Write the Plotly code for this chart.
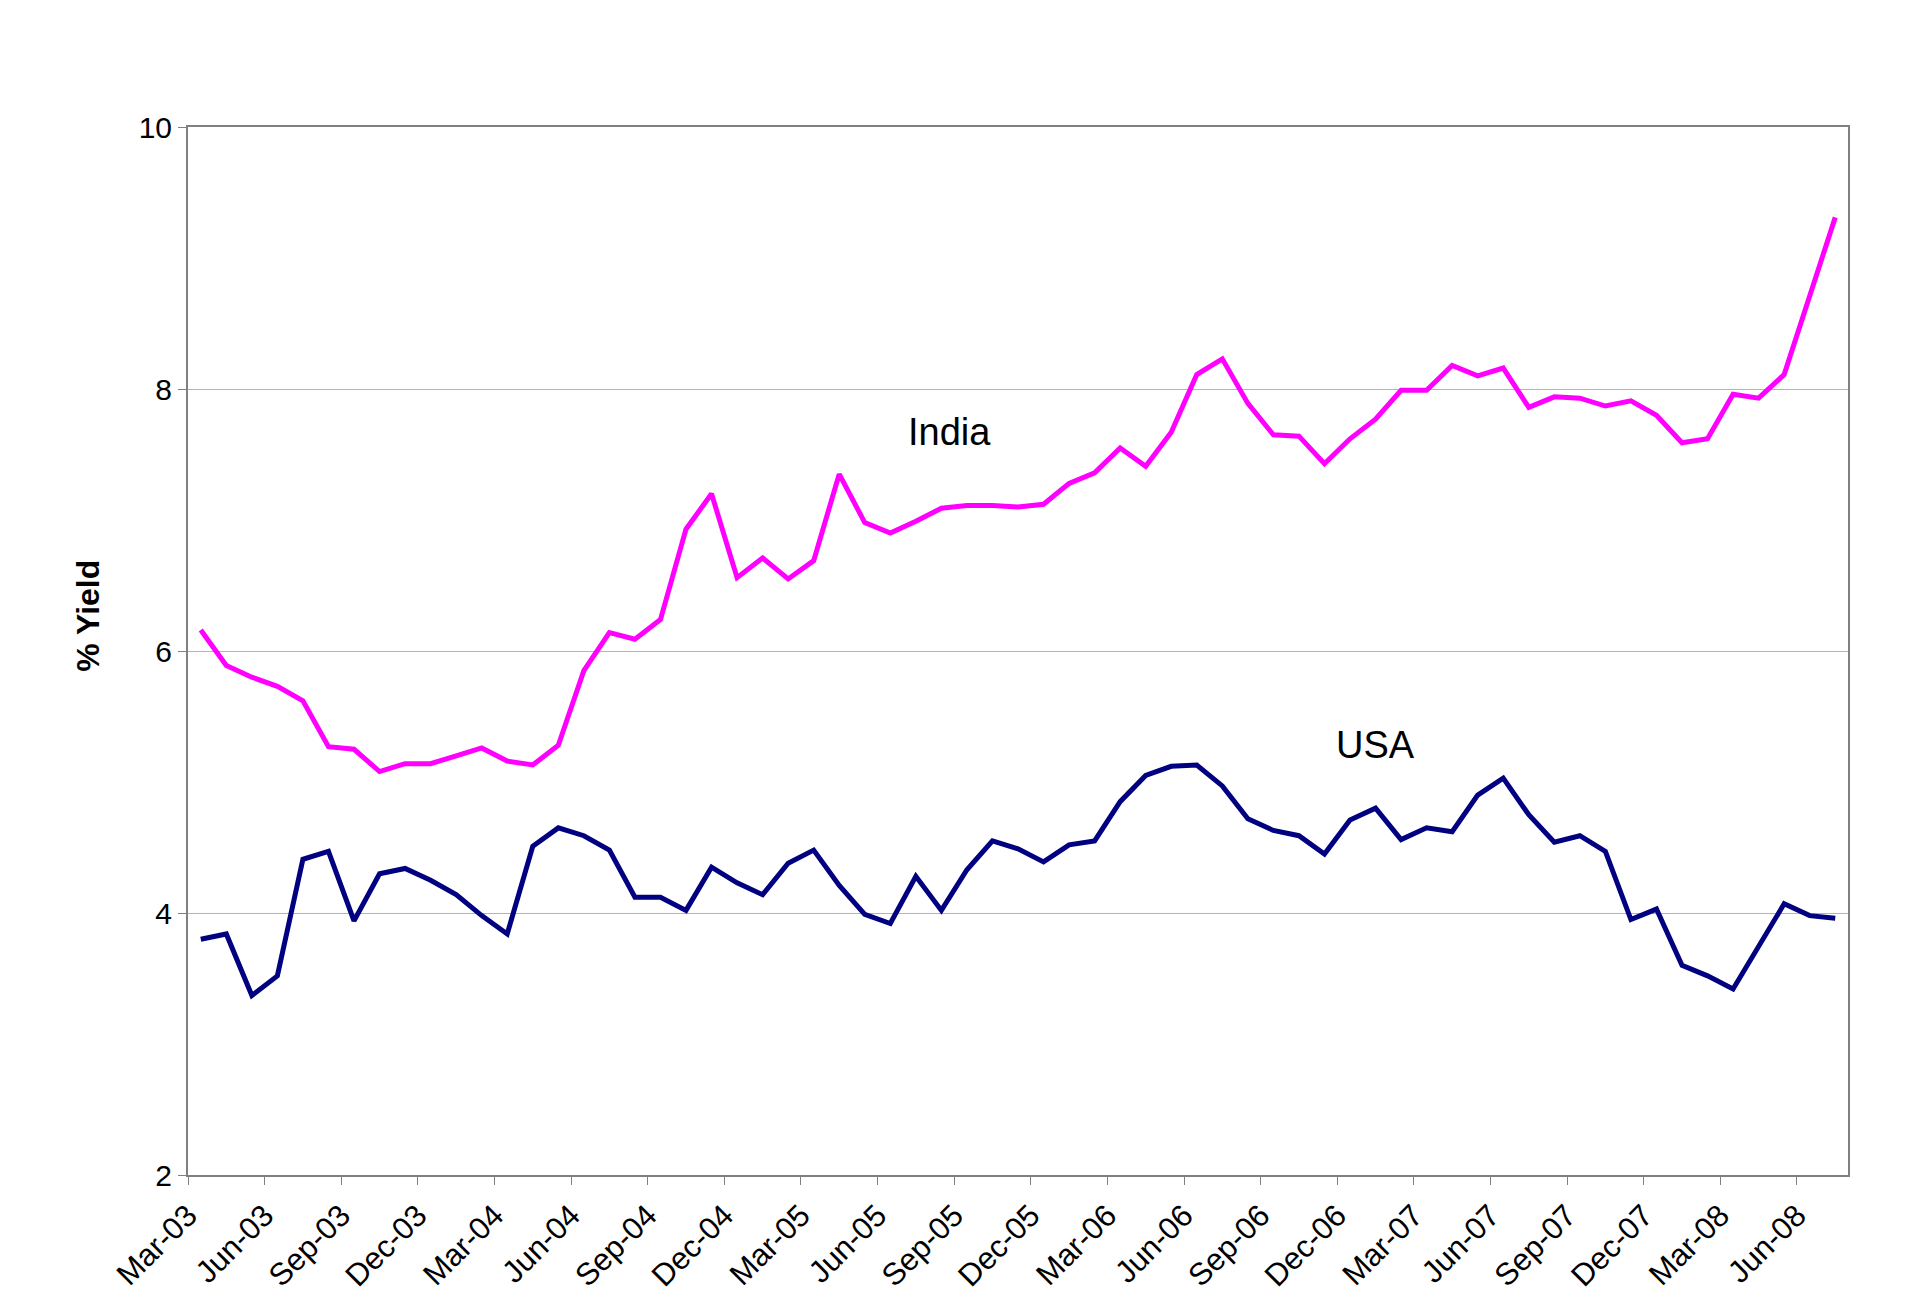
import numpy as np
import plotly.graph_objects as go

# monthly yields, Mar-03 .. Jul-08 (one value per month)
india = [6.16, 5.89, 5.80, 5.73, 5.62, 5.27, 5.25, 5.08, 5.14, 5.14, 5.20, 5.26,
         5.16, 5.13, 5.28, 5.85, 6.14, 6.09, 6.24, 6.93, 7.20, 6.56, 6.71, 6.55,
         6.69, 7.35, 6.98, 6.90, 6.99, 7.09, 7.11, 7.11, 7.10, 7.12, 7.28, 7.36,
         7.55, 7.41, 7.67, 8.11, 8.23, 7.89, 7.65, 7.64, 7.43, 7.62, 7.77, 7.99,
         7.99, 8.18, 8.10, 8.16, 7.86, 7.94, 7.93, 7.87, 7.91, 7.80, 7.59, 7.62,
         7.96, 7.93, 8.11, 8.71, 9.31]

usa = [3.80, 3.84, 3.37, 3.52, 4.41, 4.47, 3.94, 4.30, 4.34, 4.25, 4.14, 3.98,
       3.84, 4.51, 4.65, 4.59, 4.48, 4.12, 4.12, 4.02, 4.35, 4.23, 4.14, 4.38,
       4.48, 4.21, 3.99, 3.92, 4.28, 4.02, 4.33, 4.55, 4.49, 4.39, 4.52, 4.55,
       4.85, 5.05, 5.12, 5.13, 4.97, 4.72, 4.63, 4.59, 4.45, 4.71, 4.80, 4.56,
       4.65, 4.62, 4.90, 5.03, 4.75, 4.54, 4.59, 4.47, 3.95, 4.03, 3.60, 3.52,
       3.42, 3.74, 4.07, 3.98, 3.96]

# quarterly tick labels on the category axis
tick_labels = ["Mar-03", "Jun-03", "Sep-03", "Dec-03", "Mar-04", "Jun-04",
               "Sep-04", "Dec-04", "Mar-05", "Jun-05", "Sep-05", "Dec-05",
               "Mar-06", "Jun-06", "Sep-06", "Dec-06", "Mar-07", "Jun-07",
               "Sep-07", "Dec-07", "Mar-08", "Jun-08"]

n = len(india)
# points sit in the middle of each month slot, ticks on the slot boundaries
x = np.arange(n) + 0.5
tick_pos = np.arange(len(tick_labels)) * 3

FONT = "Liberation Sans, Arial, sans-serif"

fig = go.Figure()
fig.add_trace(go.Scatter(x=x, y=india, mode="lines", name="India",
                         line=dict(color="#FF00FF", width=5)))
fig.add_trace(go.Scatter(x=x, y=usa, mode="lines", name="USA",
                         line=dict(color="#000080", width=5)))

# series labels written inside the plot
fig.add_annotation(x=29.8, y=7.67, text="India", showarrow=False,
                   font=dict(family=FONT, size=38, color="black"))
fig.add_annotation(x=46.5, y=5.28, text="USA", showarrow=False,
                   font=dict(family=FONT, size=38, color="black"))

# y axis title sits a bit above the middle of the axis, as in the original
fig.add_annotation(xref="paper", yref="paper", x=-0.060, y=0.534,
                   text="<b>% Yield</b>", textangle=-90, showarrow=False,
                   xanchor="center", yanchor="middle",
                   font=dict(family=FONT, size=32, color="black"))

# page body has an 8px margin, so the figure is a little smaller than the window
fig.update_layout(
    width=1904, height=1297,
    margin=dict(l=180, r=64, t=119, b=117),
    paper_bgcolor="white", plot_bgcolor="white",
    showlegend=False,
    font=dict(family=FONT, size=30, color="black"),
)

fig.update_xaxes(
    range=[0, n], tickmode="array", tickvals=tick_pos, ticktext=tick_labels,
    tickangle=-45, ticks="outside", ticklen=8, tickcolor="#808080",
    showgrid=False, zeroline=False,
    showline=True, linecolor="#808080", linewidth=2, mirror=True,
    tickfont=dict(family=FONT, size=31),
)
fig.update_yaxes(
    range=[2, 10], dtick=2, ticks="outside", ticklen=8, tickcolor="#808080",
    showgrid=True, gridcolor="#b4b4b4", gridwidth=1, zeroline=False,
    showline=True, linecolor="#808080", linewidth=2, mirror=True,
    tickfont=dict(family=FONT, size=30),
)

fig.write_html("out.html")
